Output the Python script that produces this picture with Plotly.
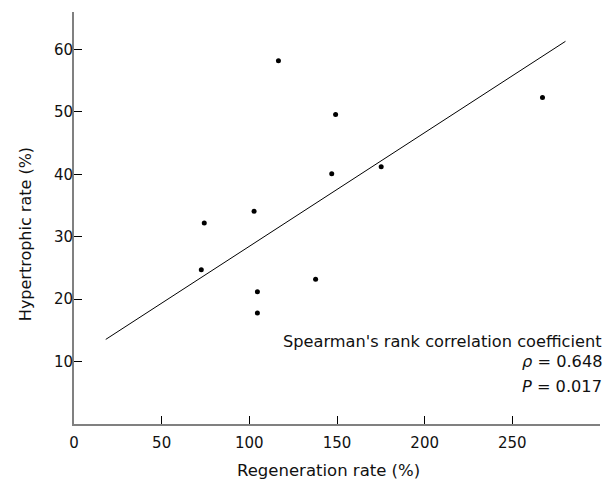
import plotly.graph_objects as go

# Data
regeneration = [116.6, 149.2, 147.0, 175.2, 267.2, 102.7, 74.3, 72.6, 104.6, 104.6, 137.8]
hypertrophic = [58.2, 49.6, 40.1, 41.2, 52.3, 34.1, 32.2, 24.7, 21.2, 17.8, 23.2]

fit_x = [18.1, 280.3]
fit_y = [13.55, 61.3]

x_ticks = [0, 50, 100, 150, 200, 250]
y_ticks = [10, 20, 30, 40, 50, 60]

annot_lines = ["Spearman's rank correlation coefficient", "<i>ρ</i> = 0.648", "<i>P</i> = 0.017"]
annot_y = [13.2, 10.0, 6.0]

x_title = "Regeneration rate (%)"
y_title = "Hypertrophic rate (%)"

FONT = "DejaVu Sans"
TXT = "#111"

fig = go.Figure()
fig.add_trace(go.Scatter(x=fit_x, y=fit_y, mode="lines",
                         line=dict(color="black", width=1), showlegend=False, hoverinfo="skip"))
fig.add_trace(go.Scatter(x=regeneration, y=hypertrophic, mode="markers",
                         marker=dict(color="black", size=5), showlegend=False))

for txt, yv in zip(annot_lines, annot_y):
    fig.add_annotation(x=1, xref="paper", y=yv, yref="y", text=txt, showarrow=False,
                       xanchor="right", yanchor="middle", xshift=3, borderpad=0,
                       font=dict(family=FONT, size=16.2, color=TXT))

# axis titles as annotations for exact placement
fig.add_annotation(x=0.483, xref="paper", y=-0.112, yref="paper", text=x_title, showarrow=False,
                   xanchor="center", yanchor="middle", font=dict(family=FONT, size=16.5, color=TXT))
fig.add_annotation(x=-0.093, xref="paper", y=0.461, yref="paper", text=y_title, showarrow=False,
                   textangle=-90, xanchor="center", yanchor="middle",
                   font=dict(family=FONT, size=16, color=TXT))

axis_common = dict(showgrid=False, zeroline=False, showline=True, linecolor="#808080",
                   linewidth=2, ticks="inside", ticklen=8, tickcolor="black", tickwidth=1,
                   tickfont=dict(family=FONT, size=15, color=TXT))

fig.update_xaxes(range=[0, 300], tickvals=x_ticks, ticklabelstandoff=4, **axis_common)
fig.update_yaxes(range=[0, 66], tickvals=y_ticks, ticklabelstandoff=-4, **axis_common)

fig.update_layout(width=606, height=481, plot_bgcolor="white", paper_bgcolor="white",
                  margin=dict(l=74, r=6, t=12, b=57, autoexpand=False), font=dict(family=FONT),
                  hovermode=False)

fig.write_html("out.html", config={"displayModeBar": False},
               post_script="document.body.style.margin='0';document.body.style.overflow='hidden';")
